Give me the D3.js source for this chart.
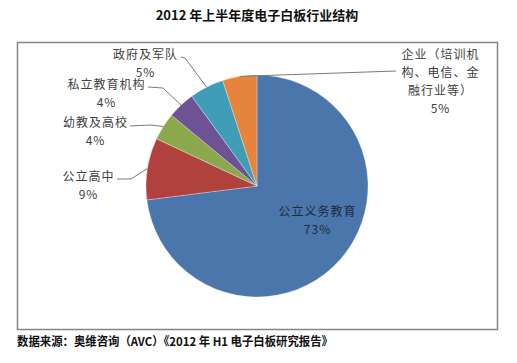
<!DOCTYPE html>
<html>
<head>
<meta charset="utf-8">
<script src="https://cdn.jsdelivr.net/npm/d3@7"></script>
<style>
  body { margin: 0; background: #fff; }
  svg { display: block; }
</style>
</head>
<body>
<div id="chart"></div>
<script>
// data
const categories = ["公立义务教育", "公立高中", "幼教及高校", "私立教育机构", "政府及军队", "企业（培训机构、电信、金融行业等）"];
const values = [73, 9, 4, 4, 5, 5];
const labelLines = [
  ["公立义务教育"],
  ["公立高中"],
  ["幼教及高校"],
  ["私立教育机构"],
  ["政府及军队"],
  ["企业（培训机", "构、电信、金", "融行业等）"],
];
const colors = ["#4a76ab", "#b1413d", "#8ba84c", "#6d5395", "#3f9db8", "#e5843a"];

const width = 517, height = 363;
const cx = 257, cy = 186, radius = 111;

// label layout: text centre x, first baseline y, line gap, leader path start points
const labelLayout = [
  { x: 317, y: 216, gap: 18, leader: null },
  { x: 88, y: 181, gap: 17.5, leader: [[117, 179], [131, 179]] },
  { x: 95, y: 127, gap: 17.5, leader: [[130, 126], [150, 125]] },
  { x: 106, y: 89, gap: 17.5, leader: [[148, 87], [163, 88]] },
  { x: 145, y: 59, gap: 17.5, leader: [[181, 57], [185, 58]] },
  { x: 440, y: 59, gap: 18, leader: [[396, 71]] },
];

const svg = d3.select("#chart").append("svg")
  .attr("width", width)
  .attr("height", height);

// Title
svg.append("text")
  .attr("x", 257)
  .attr("y", 20)
  .attr("text-anchor", "middle")
  .attr("font-family", "'Noto Sans CJK SC', sans-serif")
  .attr("font-size", "13px")
  .attr("font-weight", "bold")
  .attr("fill", "#111")
  .text("2012 年上半年度电子白板行业结构");

// Chart frame
svg.append("rect")
  .attr("x", 17.5)
  .attr("y", 42.5)
  .attr("width", 480)
  .attr("height", 287)
  .attr("fill", "#fff")
  .attr("stroke", "#858585")
  .attr("stroke-width", 1.5);

const pie = d3.pie().sort(null).value((d) => d);
const arcs = pie(values);
const arc = d3.arc().innerRadius(0).outerRadius(radius);

const g = svg.append("g").attr("transform", `translate(${cx},${cy})`);

g.selectAll("path.slice")
  .data(arcs)
  .join("path")
  .attr("class", "slice")
  .attr("d", arc)
  .attr("fill", (d, i) => colors[i])
  .attr("stroke", "#fff")
  .attr("stroke-width", 0.5)
  .attr("stroke-opacity", 0.6);

// leader lines
const line = d3.line();
arcs.forEach((a, i) => {
  const lay = labelLayout[i];
  if (!lay.leader) return;
  const mid = (a.startAngle + a.endAngle) / 2;
  const end = [cx + radius * Math.sin(mid), cy - radius * Math.cos(mid)];
  svg.append("path")
    .attr("d", line([...lay.leader, end]))
    .attr("fill", "none")
    .attr("stroke", "#7a7a7a")
    .attr("stroke-width", 1);
});

// labels
arcs.forEach((a, i) => {
  const lay = labelLayout[i];
  const lines = [...labelLines[i], values[i] + "%"];
  const t = svg.append("text")
    .attr("text-anchor", "middle")
    .attr("font-family", "'Noto Sans CJK SC', sans-serif")
    .attr("font-size", "12px")
    .attr("letter-spacing", "1px")
    .attr("fill", i === 0 ? "#1f2a3a" : "#404040");
  lines.forEach((s, k) => {
    t.append("tspan")
      .attr("x", lay.x + 0.5)
      .attr("y", lay.y + k * lay.gap)
      .text(s);
  });
});

// Source note
svg.append("text")
  .attr("x", 17)
  .attr("y", 346)
  .attr("font-family", "'Noto Sans CJK SC', sans-serif")
  .attr("font-size", "12px")
  .attr("font-weight", "bold")
  .attr("fill", "#111")
  .attr("textLength", 316)
  .attr("lengthAdjust", "spacingAndGlyphs")
  .text("数据来源：奥维咨询（AVC）《2012 年 H1 电子白板研究报告》");
</script>
</body>
</html>
